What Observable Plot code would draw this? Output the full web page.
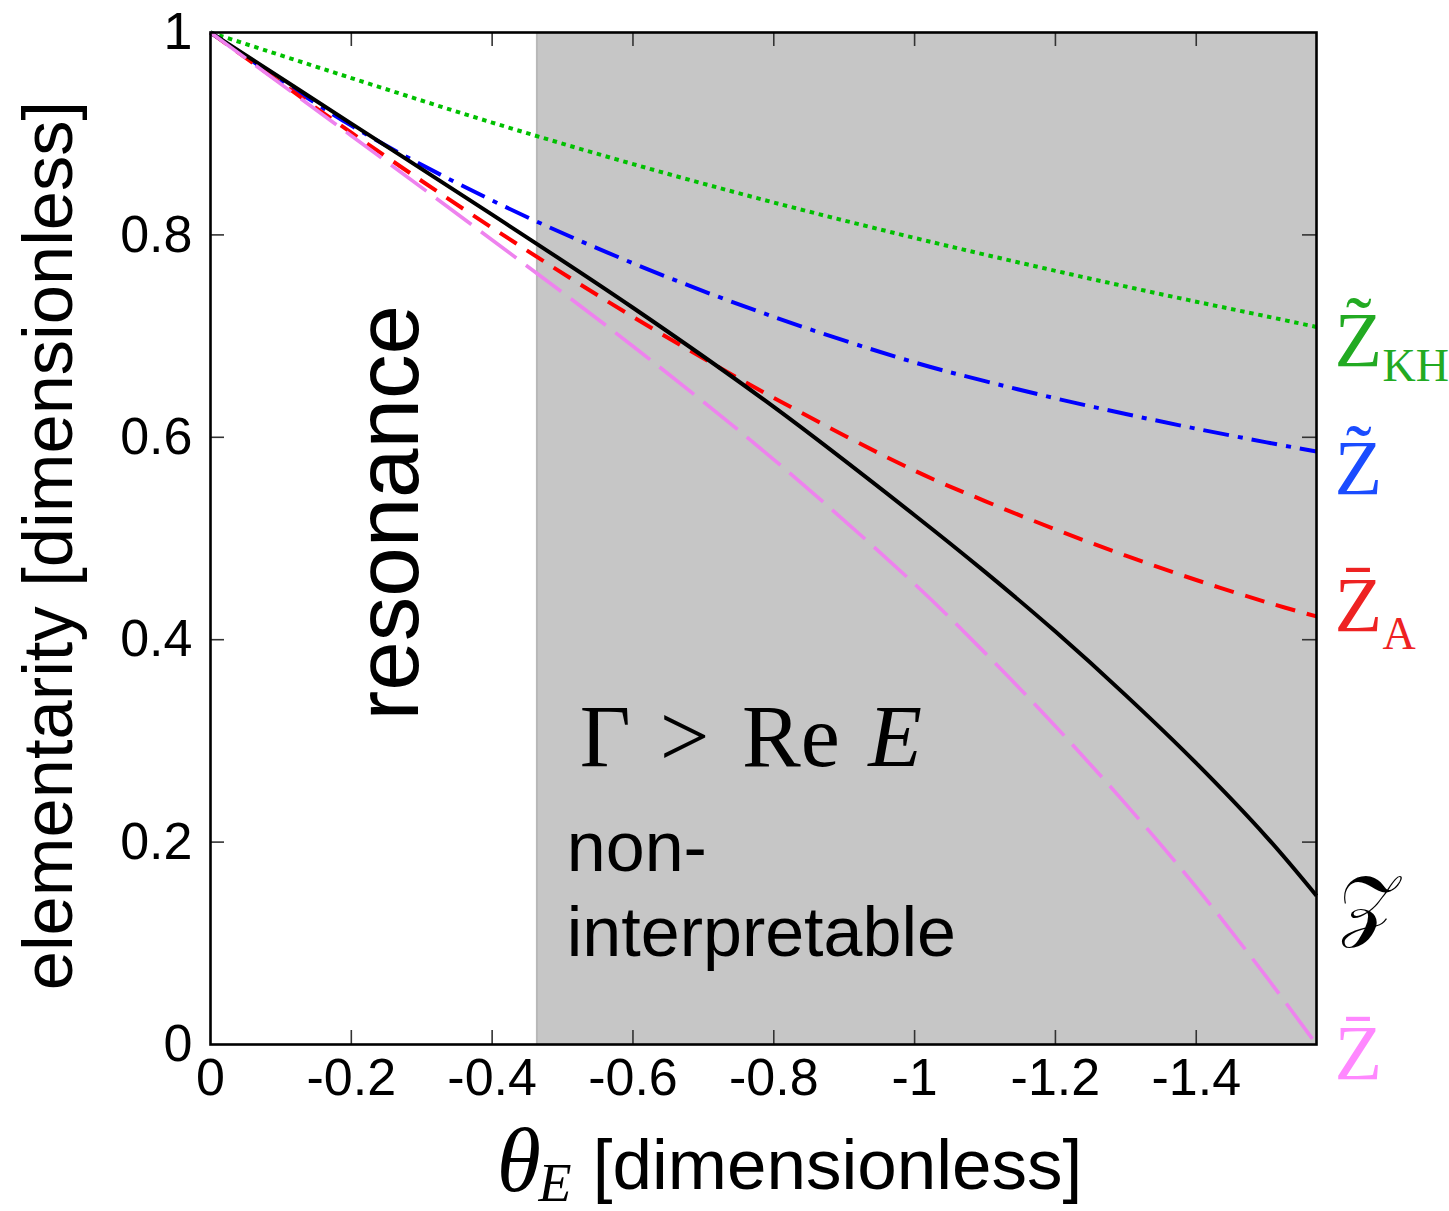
<!DOCTYPE html>
<html><head><meta charset="utf-8">
<script src="https://cdn.jsdelivr.net/npm/d3@7"></script>
<script src="https://cdn.jsdelivr.net/npm/@observablehq/plot@0.6"></script>
<style>html,body{margin:0;padding:0;background:#fff}#chart svg{display:block}</style>
</head><body><div id="chart"></div>
<script>
// ---- data ----
const theta  = [0, -0.2, -0.4, -0.6, -0.8, -1.0, -1.1, -1.2, -1.3, -1.4, -1.5, -1.5708];
const zKH    = [1, 0.955, 0.911, 0.870, 0.832, 0.797, 0.7805, 0.7645, 0.749, 0.734, 0.7195, 0.709];
const zTilde = [1, 0.908, 0.834, 0.772, 0.719, 0.674, 0.6555, 0.6385, 0.623, 0.6085, 0.595, 0.586];
const zBarA  = [1, 0.901, 0.807, 0.719, 0.639, 0.567, 0.537, 0.509, 0.483, 0.459, 0.437, 0.423];
const zScript= [1, 0.910, 0.820, 0.728, 0.630, 0.523, 0.467, 0.408, 0.345, 0.278, 0.205, 0.147];
const zBar   = [1, 0.898, 0.795, 0.690, 0.578, 0.455, 0.387, 0.3145, 0.2375, 0.1555, 0.0665, 0];
const xDomain = [0, -1.5708];
const shadeFrom = -0.4636;
const xTicks = [0, -0.2, -0.4, -0.6, -0.8, -1, -1.2, -1.4];
const yTicks = [0, 0.2, 0.4, 0.6, 0.8, 1];

// ---- layout ----
const W = 1449, H = 1211;
const mL = 210, mR = 133, mT = 32, mB = 167;
const plotW = W - mL - mR, plotH = H - mT - mB;
const tickPx = 14;
const tY = tickPx / plotH;
const tX = tickPx / plotW * (xDomain[0] - xDomain[1]);
const sans = "'Liberation Sans', Arial, Helvetica, sans-serif";
const serif = "'Liberation Serif', 'Times New Roman', serif";

const series = [
  {key: "KH",     v: zKH,     stroke: "#00c000", w: 4,   dash: "4.5,4.7"},
  {key: "tilde",  v: zTilde,  stroke: "#0000ff", w: 4,   dash: "26,9,5,9"},
  {key: "barA",   v: zBarA,   stroke: "#ff0000", w: 4,   dash: "20,12"},
  {key: "script", v: zScript, stroke: "#000000", w: 4,   dash: null},
  {key: "bar",    v: zBar,    stroke: "#ee82ee", w: 3.6, dash: "44,12"}
];
const lineMarks = series.map(s => Plot.line(theta.map((t, i) => ({t, v: s.v[i]})), {
  x: "t", y: "v", stroke: s.stroke, strokeWidth: s.w, strokeDasharray: s.dash,
  curve: "catmull-rom", strokeLinecap: "butt"
}));

const innerX = xTicks.filter(d => d !== 0);
const innerY = yTicks.filter(d => d !== 0 && d !== 1);
const right = xDomain[1];

const T = (str, o) => Plot.text([0], {text: () => str, ...o});

const plot = Plot.plot({
  width: W, height: H,
  marginLeft: mL, marginRight: mR, marginTop: mT, marginBottom: mB,
  x: {domain: xDomain},
  y: {domain: [0, 1]},
  style: {background: "white", fontFamily: sans, overflow: "visible"},
  marks: [
    Plot.rect([{x1: shadeFrom, x2: right}], {x1: "x1", x2: "x2", y1: 0, y2: 1, fill: "#c6c6c6"}),
    Plot.ruleX([shadeFrom], {y1: 0, y2: 1, stroke: "#b8b8b8", strokeWidth: 2}),
    // inward ticks
    Plot.ruleX(innerX, {x: d => d, y1: 0, y2: tY, stroke: "#333", strokeWidth: 1.6}),
    Plot.ruleX(innerX, {x: d => d, y1: 1, y2: 1 - tY, stroke: "#333", strokeWidth: 1.6}),
    Plot.ruleY(innerY, {y: d => d, x1: 0, x2: -tX, stroke: "#333", strokeWidth: 1.6}),
    Plot.ruleY(innerY, {y: d => d, x1: right, x2: right + tX, stroke: "#333", strokeWidth: 1.6}),
    ...lineMarks,
    Plot.frame({stroke: "black", strokeWidth: 2.6}),
    Plot.axisX(xTicks, {anchor: "bottom", tickSize: 0, tickPadding: 14, fontSize: 52, fill: "black",
      tickFormat: d => d === 0 ? "0" : String(d), label: null}),
    Plot.axisY(yTicks, {anchor: "left", tickSize: 0, tickPadding: 18, fontSize: 52, fill: "black",
      tickFormat: d => (d === 0 || d === 1) ? String(d) : d.toFixed(1), label: null}),
    // axis titles
    T("elementarity [dimensionless]", {frameAnchor: "left", dx: -139, y: 0.493, rotate: -90,
      textAnchor: "middle", lineAnchor: "bottom", fontSize: 70.5, fontFamily: sans, fill: "black"}),
    T("θ", {x: -0.4065, frameAnchor: "bottom", dy: 146, textAnchor: "start", lineAnchor: "bottom",
      fontSize: 90, fontFamily: serif, fontStyle: "italic", fill: "black"}),
    T("E", {x: -0.466, frameAnchor: "bottom", dy: 156, textAnchor: "start", lineAnchor: "bottom",
      fontSize: 54, fontFamily: serif, fontStyle: "italic", fill: "black"}),
    T("[dimensionless]", {x: -0.543, frameAnchor: "bottom", dy: 144, textAnchor: "start", lineAnchor: "bottom",
      fontSize: 71, fontFamily: sans, fill: "black"}),
    // annotations
    T("resonance", {x: -0.294, y: 0.5255, rotate: -90, textAnchor: "middle", lineAnchor: "bottom",
      fontSize: 89, fontFamily: sans, fill: "black"}),
    T("Γ", {x: -0.5245, y: 0.2753, textAnchor: "start", lineAnchor: "bottom",
      fontSize: 88, fontFamily: serif, fill: "black"}),
    T(">", {x: -0.638, y: 0.2753, textAnchor: "start", lineAnchor: "bottom",
      fontSize: 88, fontFamily: serif, fill: "black"}),
    T("Re", {x: -0.7548, y: 0.2753, textAnchor: "start", lineAnchor: "bottom",
      fontSize: 88, fontFamily: serif, fill: "black"}),
    T("E", {x: -0.934, y: 0.2753, textAnchor: "start", lineAnchor: "bottom",
      fontSize: 88, fontFamily: serif, fontStyle: "italic", fill: "black"}),
    T("non-", {x: -0.506, y: 0.1715, textAnchor: "start", lineAnchor: "bottom",
      fontSize: 70, fontFamily: sans, fill: "black"}),
    T("interpretable", {x: -0.506, y: 0.0875, textAnchor: "start", lineAnchor: "bottom",
      fontSize: 70, fontFamily: sans, fill: "black"}),
    // right-side series labels
    T("Z\u0303", {frameAnchor: "right", dx: 18, y: 0.670, textAnchor: "start", lineAnchor: "bottom",
      fontSize: 78, fontFamily: serif, fill: "#22aa22"}),
    T("KH", {frameAnchor: "right", dx: 66, y: 0.656, textAnchor: "start", lineAnchor: "bottom",
      fontSize: 46, fontFamily: serif, fill: "#22aa22"}),
    T("Z\u0303", {frameAnchor: "right", dx: 18, y: 0.544, textAnchor: "start", lineAnchor: "bottom",
      fontSize: 78, fontFamily: serif, fill: "#1a4cff"}),
    T("Z\u0304", {frameAnchor: "right", dx: 18, y: 0.409, textAnchor: "start", lineAnchor: "bottom",
      fontSize: 78, fontFamily: serif, fill: "#ee2222"}),
    T("A", {frameAnchor: "right", dx: 66, y: 0.391, textAnchor: "start", lineAnchor: "bottom",
      fontSize: 46, fontFamily: serif, fill: "#ee2222"}),
    T("\u{1D4B5}", {frameAnchor: "right", dx: 22, y: 0.112, textAnchor: "start", lineAnchor: "bottom",
      fontSize: 78, fontFamily: serif, fill: "black"}),
    T("Z\u0304", {frameAnchor: "right", dx: 18, y: -0.034, textAnchor: "start", lineAnchor: "bottom",
      fontSize: 78, fontFamily: serif, fill: "#ff88ff"})
  ]
});
document.getElementById("chart").appendChild(plot);
</script></body></html>
